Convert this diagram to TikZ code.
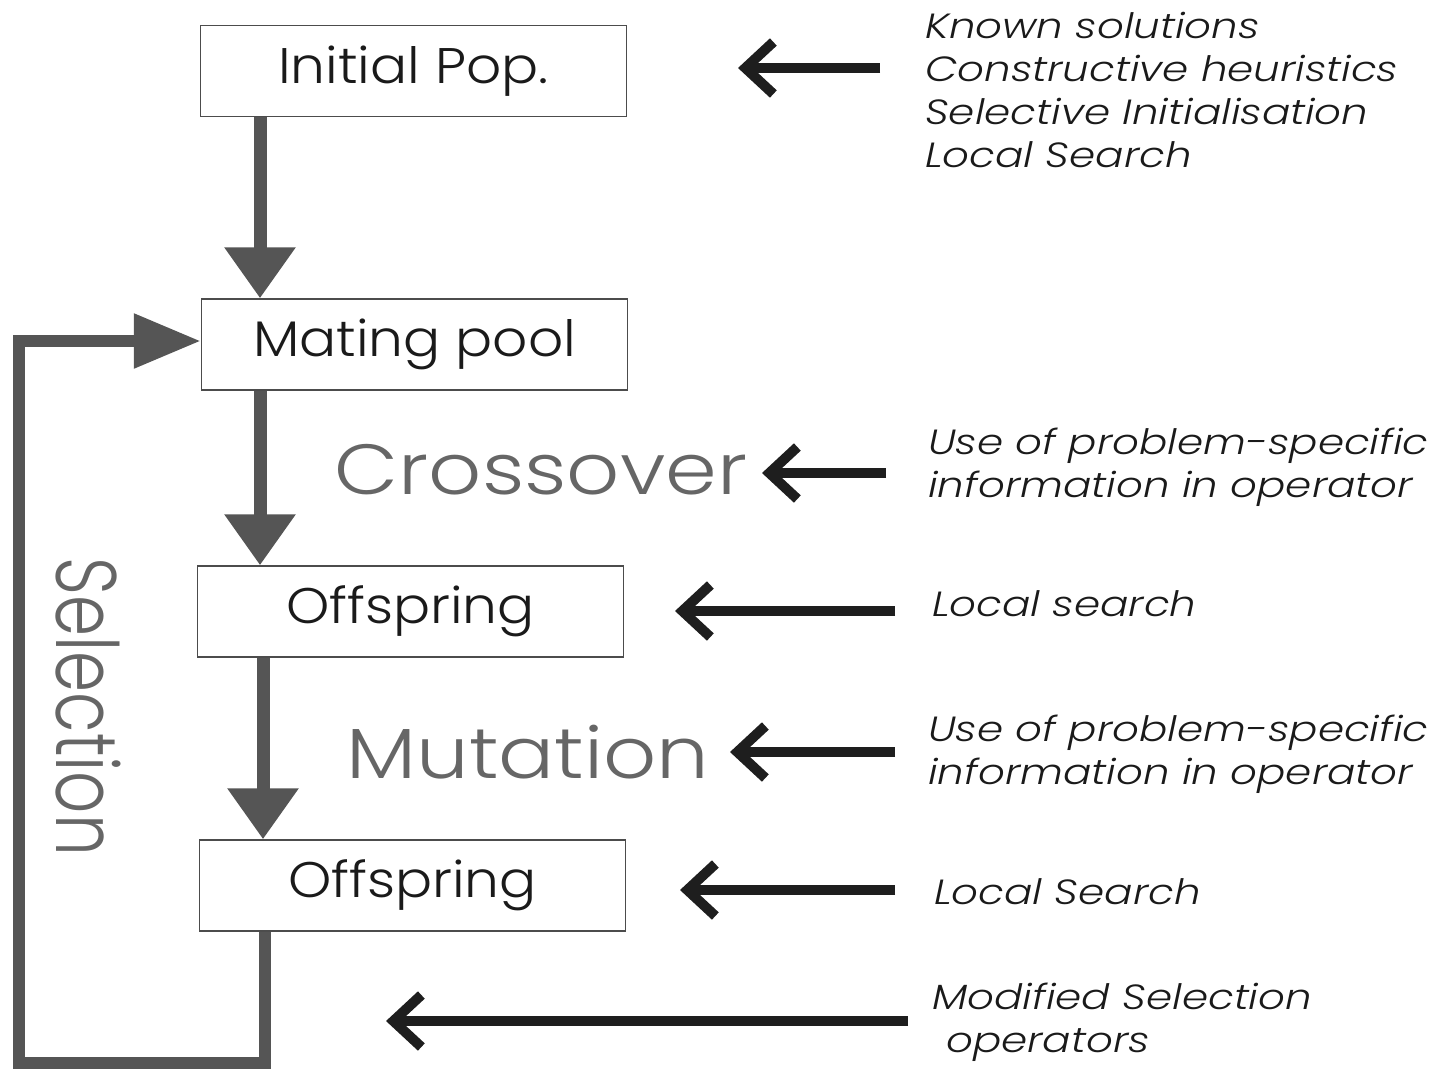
\documentclass[tikz,border=0pt]{standalone}
\usepackage{fontspec}
\setmainfont{Poppins Light}
\newfontfamily\boxfont{Poppins Light}[FakeStretch=1.1]
\newfontfamily\opfont{Poppins Light}[FakeStretch=1.17]
\newfontfamily\selfont{Poppins Light}
\newfontfamily\notefont{Poppins Light Italic}[FakeStretch=1.2]
\usetikzlibrary{arrows.meta}
\definecolor{flowgray}{HTML}{555555}
\definecolor{labgray}{HTML}{666666}
\definecolor{hintblack}{HTML}{1E1E1E}
\definecolor{textblack}{HTML}{1A1A1A}
\begin{document}
\begin{tikzpicture}[x=1pt,y=-1pt,
  box/.style={draw=black!70, line width=1.4pt, minimum width=426pt, minimum height=91pt, inner sep=0pt, text=textblack, font=\boxfont\fontsize{50}{56}\selectfont},
  flow/.style={draw=flowgray, line width=13pt, line join=miter, -{Triangle[length=51pt,width=68pt]}},
  loopflow/.style={draw=flowgray, line width=12pt, line join=miter, -{Triangle[length=67pt,width=52pt]}},
  hint/.style={draw=hintblack, line width=10pt, -{Straight Barb[length=28pt,width=52pt,line width=10pt]}},
  oplabel/.style={text=labgray, inner sep=0pt, font=\opfont\fontsize{71}{76}\selectfont},
  note/.style={anchor=west, align=left, inner sep=0pt, text=textblack, font=\notefont\fontsize{35}{43}\selectfont}
]
\useasboundingbox (0,0) rectangle (1449,1069);

% boxes
\node[box] (init) at (413.5,71) {Initial Pop.};
\node[box] (mate) at (414.5,344.5) {Mating pool};
\node[box] (off1) at (410.5,611.5) {Offspring};
\node[box] (off2) at (412.5,885.5) {Offspring};

% operator labels
\node[oplabel] (cross) at (541,470) {Crossover};
\node[oplabel] (mut) at (528,752) {Mutation};
\node[text=labgray, inner sep=0pt, rotate=-90, font=\selfont\fontsize{66}{70}\selectfont] (sel) at (88,707) {\scalebox{1}[1.3]{Selection}};

% flow arrows
\draw[flow] (init.south -| 260,0) -- (mate.north -| 260,0);
\draw[flow] (mate.south -| 260,0) -- (off1.north -| 260,0);
\draw[flow] (off1.south -| 263,0) -- (off2.north -| 263,0);
\draw[loopflow] (off2.south -| 265,0) -- (265,1063) -- (19,1063) -- (19,341) -- (mate.west |- 0,341);

% notes
\node[note] (n1) at (925,90) {Known solutions\\Constructive heuristics\\Selective Initialisation\\Local Search};
\node[note] (n2) at (928,467) {Use of problem-specific\\information in operator};
\node[note] (n3) at (932,604) {Local search};
\node[note] (n4) at (928,754) {Use of problem-specific\\information in operator};
\node[note] (n5) at (934,892) {Local Search};
\node[note] (n6) at (932,1022) {Modified Selection\\\hspace*{14pt}operators};

% hint arrows
\coordinate (h1s) at (880,68);  \coordinate (h1e) at (738,68);
\coordinate (h2s) at (886,473); \coordinate (h2e) at (762,473);
\coordinate (h3s) at (895,611); \coordinate (h3e) at (675,611);
\coordinate (h4s) at (895,752); \coordinate (h4e) at (730,752);
\coordinate (h5s) at (895,890); \coordinate (h5e) at (680,890);
\coordinate (h6s) at (908,1021); \coordinate (h6e) at (386,1021);
\draw[hint] (h1s) -- (h1e);
\draw[hint] (h2s) -- (h2e);
\draw[hint] (h3s) -- (h3e);
\draw[hint] (h4s) -- (h4e);
\draw[hint] (h5s) -- (h5e);
\draw[hint] (h6s) -- (h6e);
\end{tikzpicture}
\end{document}
